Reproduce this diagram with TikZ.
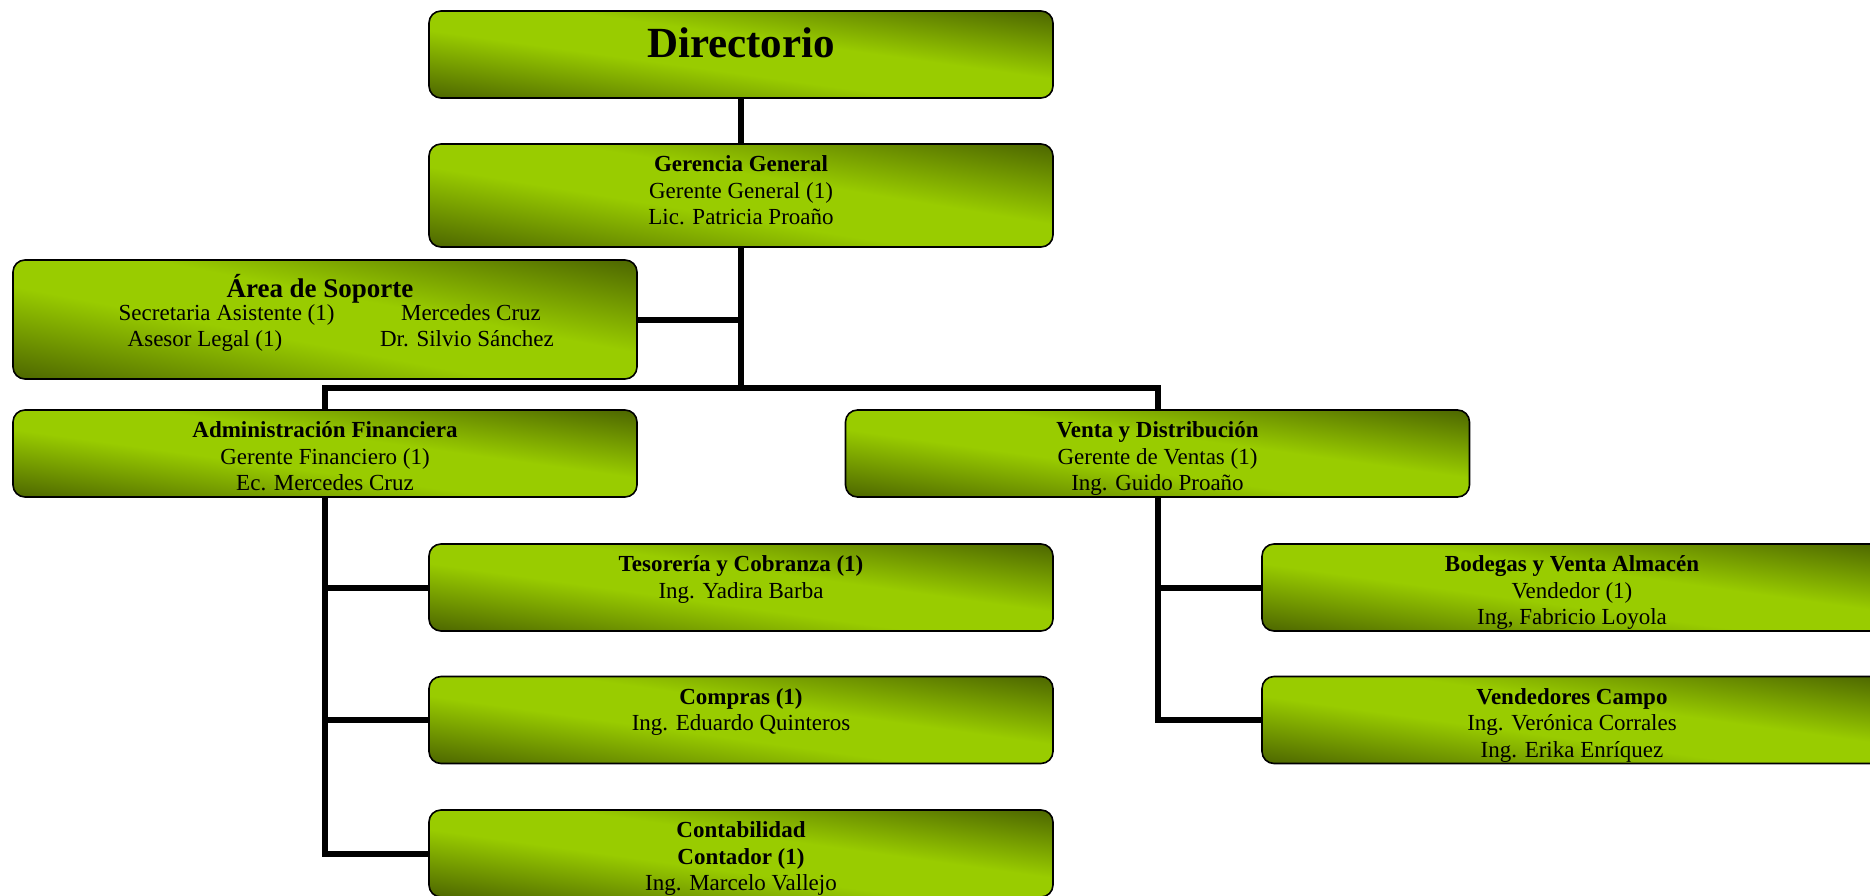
\documentclass[tikz,border=0pt]{standalone}
\usepackage{fontspec}
\setmainfont{Liberation Serif}
\pgfdeclarelayer{bg}
\pgfsetlayers{bg,main}
\pgfdeclarefunctionalshading{boxshade}{\pgfpoint{0bp}{0bp}}{\pgfpoint{100bp}{100bp}}{}{
  add 100 sub abs 50 div
  0.22 sub 0.78 div
  dup 0 lt {pop 0} if
  dup 1 gt {pop 1} if
  dup 0.3 mul 0.6 exch sub
  exch 0.4 mul 0.8 exch sub
  0
}
\tikzset{
  orgbox/.style={draw=black, line width=1.6pt, rounded corners=12pt, shading=boxshade, minimum width=624pt, minimum height=87pt, inner sep=0pt},
  conn/.style={line width=6pt, line join=miter},
  btxt/.style={anchor=north, inner sep=0pt, align=center, font=\fontsize{23}{26.5}\selectfont},
  ltxt/.style={anchor=base, inner sep=0pt, font=\fontsize{23}{26.5}\selectfont}
}
\begin{document}
\begin{tikzpicture}[x=1pt,y=-1pt]
\useasboundingbox (0,0) rectangle (1870,896);
% boxes
\node[orgbox] (dir) at (741,54.5) {};
\node[orgbox, minimum height=103pt] (gg) at (741,195.5) {};
\node[orgbox, minimum height=119pt] (sop) at (325,319.5) {};
\node[orgbox] (adm) at (325,453.5) {};
\node[orgbox] (ven) at (1157.5,453.5) {};
\node[orgbox] (teso) at (741,587.5) {};
\node[orgbox] (comp) at (741,720) {};
\node[orgbox] (conta) at (741,853.5) {};
\node[orgbox] (bod) at (1574,587.5) {};
\node[orgbox] (vend) at (1574,720) {};
\coordinate (bar) at (741,387.6);
% connectors
\begin{pgfonlayer}{bg}
\draw[conn] (dir.south) -- (gg.north);
\draw[conn] (gg.south) -- (bar);
\draw[conn] (sop.east) -- (sop.east -| gg.south);
\draw[conn] (adm.north) |- (bar) -| (ven.north);
\draw[conn] (adm.south) |- (conta.west);
\draw[conn] (teso.west) -- (teso.west -| adm.south);
\draw[conn] (comp.west) -- (comp.west -| adm.south);
\draw[conn] (ven.south) |- (vend.west);
\draw[conn] (bod.west) -- (bod.west -| ven.south);
\end{pgfonlayer}
% texts
\node[anchor=base, inner sep=0pt, font=\fontsize{43}{48}\selectfont\bfseries] (tdir) at ([yshift=-47pt]dir.north) {Directorio};
\node[btxt] (tgg) at ([yshift=-10pt]gg.north) {\strut\textbf{Gerencia General}\\Gerente General (1)\\Lic. Patricia Proaño};
\node[anchor=base, inner sep=0pt, font=\fontsize{27}{30}\selectfont\bfseries] (tsop) at (320,297) {Área de Soporte};
\node[ltxt] (s1) at (226.6,320.5) {Secretaria Asistente (1)};
\node[ltxt] (s2) at (471,320.5) {Mercedes Cruz};
\node[ltxt] (s3) at (205,346.7) {Asesor Legal (1)};
\node[ltxt] (s4) at (467,346.7) {Dr. Silvio Sánchez};
\node[btxt] (tadm) at ([yshift=-10pt]adm.north) {\strut\textbf{Administración Financiera}\\Gerente Financiero (1)\\Ec. Mercedes Cruz};
\node[btxt] (tven) at ([yshift=-10pt]ven.north) {\strut\textbf{Venta y Distribución}\\Gerente de Ventas (1)\\Ing. Guido Proaño};
\node[btxt] (tteso) at ([yshift=-10pt]teso.north) {\strut\textbf{Tesorería y Cobranza (1)}\\Ing. Yadira Barba};
\node[btxt] (tcomp) at ([yshift=-10pt]comp.north) {\strut\textbf{Compras (1)}\\Ing. Eduardo Quinteros};
\node[btxt] (tconta) at ([yshift=-10pt]conta.north) {\strut\textbf{Contabilidad}\\\textbf{Contador (1)}\\Ing. Marcelo Vallejo};
\node[btxt] (tbod) at ([xshift=-2pt,yshift=-10pt]bod.north) {\strut\textbf{Bodegas y Venta Almacén}\\Vendedor (1)\\Ing, Fabricio Loyola};
\node[btxt] (tvend) at ([xshift=-2pt,yshift=-10pt]vend.north) {\strut\textbf{Vendedores Campo}\\Ing. Verónica Corrales\\Ing. Erika Enríquez};
\end{tikzpicture}
\end{document}
